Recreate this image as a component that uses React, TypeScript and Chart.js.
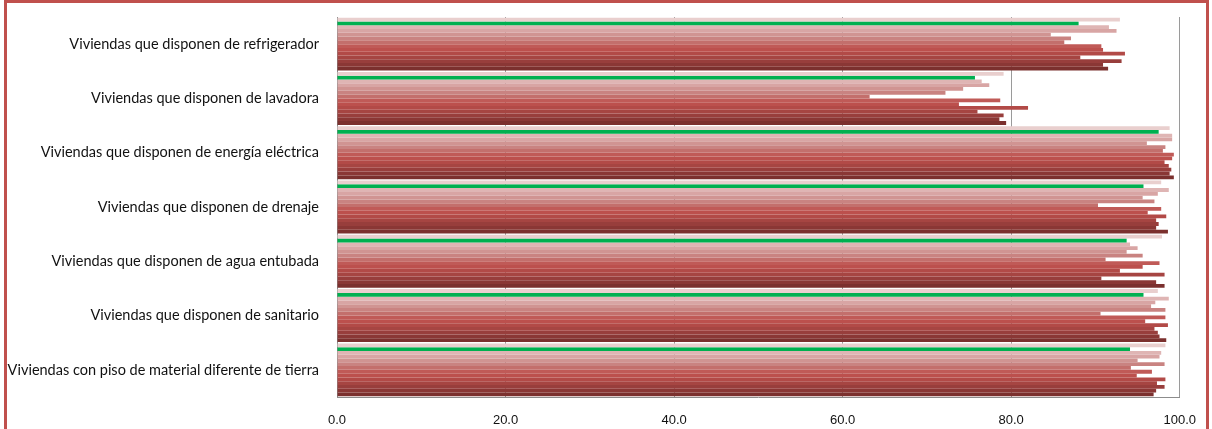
import React, { useEffect, useRef } from "react";
import { Chart, registerables } from "chart.js";

Chart.register(...registerables);

const categories = [
  "Viviendas que disponen de refrigerador",
  "Viviendas que disponen de lavadora",
  "Viviendas que disponen de energía eléctrica",
  "Viviendas que disponen de drenaje",
  "Viviendas que disponen de agua entubada",
  "Viviendas que disponen de sanitario",
  "Viviendas con piso de material diferente de tierra",
];

// Values per category, one per series (top bar to bottom bar within each group)
const refrigerador = [92.9, 88.0, 91.6, 92.5, 84.7, 87.1, 86.3, 90.7, 90.9, 93.5, 88.2, 93.1, 90.9, 91.5];
const lavadora = [79.1, 75.7, 76.5, 77.4, 74.3, 72.2, 63.2, 78.7, 73.8, 82.0, 76.0, 79.1, 78.6, 79.4];
const energiaElectrica = [98.8, 97.5, 99.1, 99.1, 96.1, 98.3, 98.0, 99.3, 99.1, 98.2, 98.7, 99.0, 98.8, 99.3];
const drenaje = [97.8, 95.7, 98.7, 97.4, 95.6, 97.0, 90.3, 97.8, 96.2, 98.4, 97.2, 97.5, 97.2, 98.6];
const aguaEntubada = [97.9, 93.7, 94.1, 95.0, 93.7, 95.6, 91.2, 97.6, 95.6, 92.9, 98.2, 90.7, 97.2, 98.2];
const sanitario = [97.4, 95.7, 98.7, 97.1, 96.6, 98.3, 90.6, 98.3, 95.9, 98.6, 97.0, 97.4, 97.6, 98.4];
const pisoNoTierra = [98.3, 94.1, 97.8, 97.6, 95.0, 98.2, 94.2, 96.7, 94.9, 98.3, 97.3, 98.2, 97.2, 96.9];

const categoryValues = [refrigerador, lavadora, energiaElectrica, drenaje, aguaEntubada, sanitario, pisoNoTierra];

const seriesNames = [
  "Serie 1", "Serie 2", "Serie 3", "Serie 4", "Serie 5", "Serie 6", "Serie 7",
  "Serie 8", "Serie 9", "Serie 10", "Serie 11", "Serie 12", "Serie 13", "Serie 14",
];

const xTicks = [0, 20, 40, 60, 80, 100];

const seriesColors = [
  "#e9cfce", "#00b050", "#dfb5b4", "#d8a5a4", "#d09492", "#c98381", "#c36f6c",
  "#c05a57", "#bc504d", "#b24a47", "#a64542", "#983e3c", "#8a3735", "#7b302e",
];

export default function App() {
  const ref = useRef<HTMLCanvasElement>(null);

  useEffect(() => {
    const datasets = seriesNames.map((name, i) => ({
      label: name,
      data: categoryValues.map((arr) => arr[i]),
      backgroundColor: seriesColors[i],
      borderWidth: 0,
      categoryPercentage: 0.975,
      barPercentage: 1,
    }));
    const labelFont = { family: "Lato, 'Open Sans', sans-serif", size: 14.5 };
    const chart = new Chart(ref.current as HTMLCanvasElement, {
      type: "bar",
      data: { labels: categories, datasets },
      options: {
        indexAxis: "y",
        responsive: false,
        animation: false,
        layout: { padding: { top: 17, right: 19, left: 0, bottom: 0 } },
        plugins: { legend: { display: false }, tooltip: { enabled: false } },
        scales: {
          x: {
            min: xTicks[0],
            max: xTicks[xTicks.length - 1],
            afterBuildTicks: (s: any) => {
              s.ticks = xTicks.map((v) => ({ value: v }));
            },
            ticks: {
              callback: (v: any) => Number(v).toFixed(1),
              padding: 16,
              color: "#111",
              font: { family: "'Liberation Sans', Arial, sans-serif", size: 13 },
            },
            grid: { color: "#9a9a9a", drawTicks: false },
            border: { color: "#8c8c8c" },
            afterFit: (s: any) => {
              s.height = 32;
            },
          },
          y: {
            ticks: { padding: 0, color: "#111", font: labelFont },
            grid: { display: true, color: "rgba(0,0,0,0)", drawTicks: true, tickLength: 18 },
            border: { color: "#8c8c8c" },
            afterFit: (s: any) => {
              s.width = 337;
            },
          },
        },
      },
    } as any);
    return () => chart.destroy();
  }, []);

  return (
    <div style={{ position: "absolute", left: 0, top: 0, width: 1212, height: 429, background: "#fff", overflow: "hidden" }}>
      <div
        style={{
          position: "absolute",
          left: 4,
          top: 0,
          width: 1205,
          height: 460,
          border: "3px solid #c0504d",
          boxSizing: "border-box",
        }}
      />
      <canvas ref={ref} width={1212} height={429} style={{ position: "absolute", left: 0, top: 0 }} />
    </div>
  );
}
